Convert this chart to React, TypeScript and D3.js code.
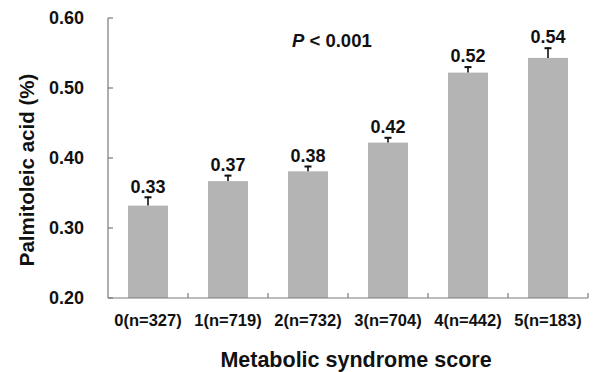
import React from 'react';
import * as d3 from 'd3';

const categories = ['0(n=327)', '1(n=719)', '2(n=732)', '3(n=704)', '4(n=442)', '5(n=183)'];
const means = [0.332, 0.367, 0.381, 0.422, 0.522, 0.543];
const errors = [0.013, 0.009, 0.008, 0.008, 0.009, 0.015];
const valueLabels = ['0.33', '0.37', '0.38', '0.42', '0.52', '0.54'];
const yTicks = [0.2, 0.3, 0.4, 0.5, 0.6];

const W = 594, H = 372;
const left = 108, right = 588, top = 18, bottom = 298;
const font = 'Arial, "Liberation Sans", sans-serif';
const axisColor = '#7a7a7a';

export default function App() {
  const x = d3.scaleBand<string>().domain(categories).range([left, right]).paddingInner(0.5).paddingOuter(0.25);
  const y = d3.scaleLinear().domain([0.2, 0.6]).range([bottom, top]);
  const step = x.step();

  return (
    <svg width={W} height={H} style={{ position: 'absolute', left: 0, top: 0, background: '#fff' }}
      fontFamily={font} fontWeight="bold">
      {/* bars */}
      {categories.map((c, i) => (
        <rect key={c} x={x(c)} y={y(means[i])} width={x.bandwidth()} height={bottom - y(means[i])} fill="#b4b4b4" />
      ))}
      {/* error bars */}
      {categories.map((c, i) => {
        const cx = (x(c) as number) + x.bandwidth() / 2;
        const yt = y(means[i] + errors[i]);
        return (
          <g key={c} stroke="#111" strokeWidth={1.6}>
            <line x1={cx} x2={cx} y1={y(means[i])} y2={yt} />
            <line x1={cx - 3.5} x2={cx + 3.5} y1={yt + 0.8} y2={yt + 0.8} strokeWidth={2} />
          </g>
        );
      })}
      {/* value labels */}
      {categories.map((c, i) => (
        <text key={c} x={(x(c) as number) + x.bandwidth() / 2} y={y(means[i] + errors[i]) - 4}
          textAnchor="middle" fontSize={18} fill="#111">{valueLabels[i]}</text>
      ))}
      {/* y axis */}
      <line x1={left} x2={left} y1={top} y2={bottom} stroke={axisColor} strokeWidth={1.2} />
      {yTicks.map(t => (
        <g key={t}>
          <line x1={left} x2={left + 5} y1={y(t)} y2={y(t)} stroke={axisColor} strokeWidth={1.2} />
          <text x={84} y={y(t)} dy="0.36em" textAnchor="end" fontSize={18} fill="#111">{t.toFixed(2)}</text>
        </g>
      ))}
      {/* x axis */}
      <line x1={left} x2={right} y1={bottom} y2={bottom} stroke={axisColor} strokeWidth={1.2} />
      {categories.map((c, i) => (
        <line key={c} x1={left + step * (i + 1)} x2={left + step * (i + 1)} y1={bottom} y2={bottom - 5}
          stroke={axisColor} strokeWidth={1.2} />
      ))}
      {categories.map(c => (
        <text key={c} x={(x(c) as number) + x.bandwidth() / 2} y={326} textAnchor="middle" fontSize={16.5} fill="#111">{c}</text>
      ))}
      {/* titles */}
      <text x={356} y={367} textAnchor="middle" fontSize={21.5} fill="#111">Metabolic syndrome score</text>
      <text transform={`translate(34,170) rotate(-90)`} textAnchor="middle" fontSize={20.5} fill="#111">Palmitoleic acid (%)</text>
      <text x={292} y={47} fontSize={18.5} fill="#111"><tspan fontStyle="italic">P</tspan> &lt; 0.001</text>
    </svg>
  );
}
